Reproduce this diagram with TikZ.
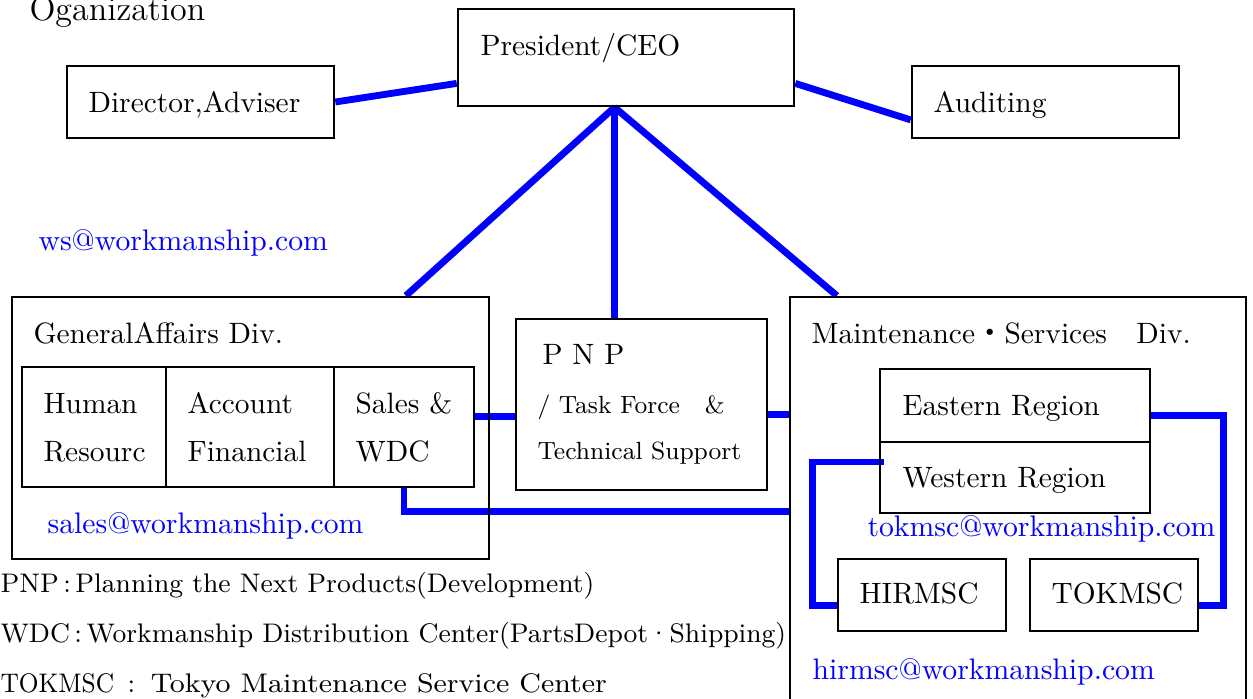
\documentclass[tikz,border=0pt]{standalone}
\usepackage{fontspec}
\newfontfamily\cjk{Noto Sans CJK JP}
\usetikzlibrary{fit,calc,backgrounds}
\definecolor{lineblue}{RGB}{0,0,255}
\newcommand\jpc[1]{{\cjk #1}}
\begin{document}
\begin{tikzpicture}[x=0.35pt,y=-0.35pt,
  box/.style={draw=black, line width=0.9pt, inner sep=0pt},
  conn/.style={draw=lineblue, line width=2.4pt},
  lbl/.style={anchor=base west, inner sep=0pt, font=\fontsize{10.3}{12}\selectfont},
  mail/.style={anchor=base west, inner sep=0pt, text=lineblue, font=\fontsize{10.4}{12}\selectfont},
  smalltxt/.style={anchor=base west, inner sep=0pt, font=\fontsize{8.7}{10}\selectfont},
  note/.style={anchor=base west, inner sep=0pt, font=\fontsize{9.4}{11}\selectfont},
  title/.style={anchor=base west, inner sep=0pt, font=\fontsize{11.9}{14}\selectfont}]
\useasboundingbox (0,0) rectangle (1253,699);

% boxes
\node[box, fit={(458,9) (794,106)}] (pres) {};
\node[box, fit={(67,66) (334,138)}] (dir) {};
\node[box, fit={(912,66) (1179,138)}] (aud) {};
\node[box, fit={(12,297) (489,559)}] (ga) {};
\node[box, fit={(22,367) (166,487)}] (hr) {};
\node[box, fit={(166,367) (334,487)}] (acc) {};
\node[box, fit={(334,367) (474,487)}] (sal) {};
\node[box, fit={(516,319) (767,490)}] (pnp) {};
\node[box, fit={(790,297) (1246,740)}] (mnt) {};
\node[box, fit={(880,369) (1150,442)}] (east) {};
\node[box, fit={(880,442) (1150,513)}] (west) {};
\node[box, fit={(838,559) (1006,631)}] (hir) {};
\node[box, fit={(1030,559) (1198,631)}] (tok) {};

% texts
\node[title] (torg) at (29,20) {Oganization};
\node[lbl] (tpres) at (480,55) {President/CEO};
\node[lbl] (tdir) at (88,113) {Director,Adviser};
\node[lbl] (taud) at (933,113) {Auditing};
\node[mail] (tws) at (38,250) {ws@workmanship.com};
\node[lbl] (tga) at (33,343) {GeneralAffairs Div.};
\node[lbl] (thr1) at (43,413) {Human};
\node[lbl] (thr2) at (43,461) {Resourc};
\node[lbl] (tac1) at (187,413) {Account};
\node[lbl] (tac2) at (187,461) {Financial};
\node[lbl] (tsa1) at (355,413) {Sales \&};
\node[lbl] (tsa2) at (355,461) {WDC};
\node[mail] (tsales) at (47,533) {sales@workmanship.com};
\node[lbl] (tpnp1) at (542,364) {P N P};
\node[smalltxt] (tpnp2) at (537,413) {/ Task Force\jpc{　}\&};
\node[smalltxt] (tpnp3) at (537,459) {Technical Support};
\node[lbl] (tmnt) at (811,343) {Maintenance\jpc{・}Services\jpc{　}Div.};
\node[lbl] (teast) at (902,415) {Eastern Region};
\node[lbl] (twest) at (902,487) {Western Region};
\node[mail] (ttok) at (867,536) {tokmsc@workmanship.com};
\node[lbl] (thir) at (859,603) {HIRMSC};
\node[lbl] (ttokm) at (1051,603) {TOKMSC};
\node[mail] (thirm) at (812,679) {hirmsc@workmanship.com};
\node[note] (n1) at (0,592) {PNP\,:\,Planning the Next Products(Development)};
\node[note] (n2) at (0,642) {WDC\,:\,Workmanship Distribution Center(PartsDepot\textperiodcentered Shipping)};
\node[note] (n3) at (0,692) {\scalebox{0.92}[1]{TOKMSC}\hspace{0.5em}:\hspace{0.58em}\scalebox{1.085}[1]{Tokyo Maintenance Service Center}};

% connectors
\begin{scope}[on background layer]
\draw[conn] (dir.east) -- ($(pres.north west)!0.76!(pres.south west)$);
\draw[conn] ($(pres.north east)!0.76!(pres.south east)$) -- ($(aud.north west)!0.74!(aud.south west)$);
\coordinate (pb) at ($(pres.south west)!0.466!(pres.south east)$);
\draw[conn] (pb) -- ($(ga.north west)!0.824!(ga.north east)$);
\draw[conn] (pb) -- (pb |- pnp.north);
\draw[conn] (pb) -- ($(mnt.north west)!0.105!(mnt.north east)$);
\coordinate (s1) at ($(sal.north east)!0.415!(sal.south east)$);
\draw[conn] (s1) -- (s1 -| pnp.west);
\coordinate (p1) at ($(pnp.north east)!0.56!(pnp.south east)$);
\draw[conn] (p1) -- (p1 -| mnt.west);
\draw[conn] (sal.south) -- ++(0,23) coordinate (c1) -- (c1 -| mnt.west);
\coordinate (e1) at ($(east.north east)!0.63!(east.south east)$);
\coordinate (k1) at ($(tok.north east)!0.64!(tok.south east)$);
\draw[conn] (e1) -- ++(72,0) coordinate (e2) -- (e2 |- k1) -- (k1);
\coordinate (w1) at ($(west.north west)!0.29!(west.south west)+(5,0)$);
\coordinate (h1) at ($(hir.north west)!0.64!(hir.south west)$);
\draw[conn] (w1) -- ++(-71,0) coordinate (w2) -- (w2 |- h1) -- (h1);
\end{scope}
\end{tikzpicture}
\end{document}
